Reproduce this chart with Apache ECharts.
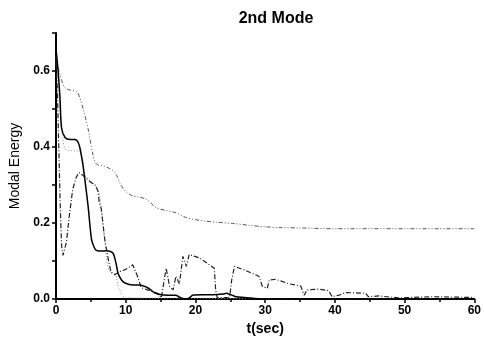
<!DOCTYPE html>
<html>
<head>
<meta charset="utf-8">
<script src="https://cdn.jsdelivr.net/npm/echarts@6/dist/echarts.min.js"></script>
<style>html,body{margin:0;padding:0;background:#fff}#c{width:484px;height:348px}</style>
</head>
<body>
<div id="c"></div>
<script>
// Solid line
var tSolid = [0, 0.3, 0.57, 0.8, 1.3, 2, 2.7, 3.1, 3.4, 3.8, 4.1, 4.6, 5.1, 5.5, 5.8, 6.5, 7.2, 7.8, 8.2, 8.6, 8.9, 9.4, 9.9, 11, 12, 13, 13.6, 14.1, 14.9, 16, 17.2, 17.6, 18, 18.7, 19.2, 19.6, 21, 22.5, 24, 24.4, 25, 25.8, 27, 28.2, 30, 40, 50, 60];
var vSolid = [0.66, 0.6, 0.53, 0.45, 0.425, 0.42, 0.42, 0.415, 0.40, 0.36, 0.32, 0.245, 0.156, 0.135, 0.128, 0.126, 0.127, 0.125, 0.12, 0.095, 0.068, 0.05, 0.042, 0.037, 0.037, 0.031, 0.024, 0.017, 0.012, 0.01, 0.01, 0.006, 0.002, 0, 0.004, 0.01, 0.011, 0.011, 0.013, 0.015, 0.012, 0.006, 0.004, 0.002, 0, 0, 0, 0];
// Dash-dot line
var tDashDot = [0, 0.2, 0.4, 0.6, 0.8, 1.0, 1.2, 1.5, 1.9, 2.4, 2.9, 3.3, 3.9, 4.8, 5.6, 6.0, 6.2, 6.5, 7.0, 7.3, 7.6, 7.9, 8.4, 9.1, 10.0, 11.0, 11.8, 12.2, 13.4, 14.5, 15.1, 15.8, 16.3, 16.8, 17.2, 17.7, 18.2, 18.7, 19.1, 20.6, 22.7, 22.9, 23.1, 24.9, 25.2, 25.6, 27.2, 29.1, 29.6, 30.3, 30.6, 31.5, 33.4, 35.1, 35.6, 36.0, 37.7, 39.1, 39.6, 40.6, 41.5, 44.4, 44.8, 46.3, 49.1, 54, 60];
var vDashDot = [0.62, 0.55, 0.40, 0.25, 0.14, 0.115, 0.11, 0.15, 0.218, 0.289, 0.32, 0.333, 0.325, 0.31, 0.30, 0.285, 0.255, 0.236, 0.156, 0.125, 0.095, 0.07, 0.064, 0.072, 0.078, 0.09, 0.055, 0.03, 0.022, 0.015, 0.003, 0.081, 0.033, 0.024, 0.06, 0.04, 0.112, 0.086, 0.117, 0.108, 0.081, 0.024, 0.004, 0.004, 0.05, 0.086, 0.075, 0.06, 0.033, 0.028, 0.05, 0.052, 0.04, 0.034, 0.01, 0.024, 0.026, 0.022, 0.006, 0.01, 0.017, 0.015, 0.006, 0.008, 0.003, 0.006, 0.004];
// Dash-dot-dot line (upper)
var tDashDotDot = [0, 0.3, 0.57, 1.0, 1.3, 2, 3, 3.4, 3.9, 4.6, 5.3, 5.8, 6.8, 7.5, 8.2, 8.7, 9.3, 9.9, 11, 12, 13, 14.4, 15.8, 17.2, 18.7, 20.6, 23, 25.3, 27.7, 30, 32, 35, 40, 45, 50, 55, 60];
var vDashDotDot = [0.64, 0.61, 0.59, 0.565, 0.555, 0.55, 0.545, 0.53, 0.50, 0.448, 0.38, 0.355, 0.35, 0.345, 0.338, 0.325, 0.30, 0.285, 0.271, 0.268, 0.262, 0.24, 0.233, 0.227, 0.214, 0.207, 0.202, 0.199, 0.194, 0.19, 0.188, 0.187, 0.185, 0.185, 0.185, 0.185, 0.185];
// Dotted line
var tDotted = [0, 0.3, 0.7, 1.0, 1.3, 2, 3, 3.5, 3.9, 4.2, 5, 6, 6.5, 7, 7.6, 8.5, 9, 10, 20, 30, 40, 50, 60];
var vDotted = [0.63, 0.58, 0.47, 0.42, 0.395, 0.39, 0.39, 0.385, 0.36, 0.325, 0.31, 0.29, 0.24, 0.15, 0.075, 0.065, 0.03, 0.003, 0.002, 0.001, 0.001, 0.001, 0];

var titleText = '2nd Mode';
var xName = 't(sec)';
var yName = 'Modal Energy';

function pairs(t, v) { return t.map(function (x, i) { return [x, v[i]]; }); }

var chart = echarts.init(document.getElementById('c'), null, {renderer: 'canvas'});
var lblFont = {fontFamily: 'Liberation Sans, Arial, sans-serif', fontWeight: 'bold', fontSize: 12, color: '#000'};
chart.setOption({
  animation: false,
  backgroundColor: '#fff',
  title: {
    text: titleText, left: 271, top: 6, textAlign: 'center',
    textStyle: {fontFamily: 'Liberation Sans, Arial, sans-serif', fontWeight: 'bold', fontSize: 16, color: '#000'}
  },
  grid: {left: 56, right: 8, top: 33, bottom: 49},
  xAxis: {
    type: 'value', min: 0, max: 60, interval: 10,
    name: xName, nameLocation: 'middle', nameGap: 21,
    nameTextStyle: {fontFamily: 'Liberation Sans, Arial, sans-serif', fontWeight: 'bold', fontSize: 14, color: '#000'},
    axisLine: {show: true, lineStyle: {color: '#000', width: 2}},
    axisTick: {show: true, inside: false, length: 4, lineStyle: {color: '#000', width: 1.5}},
    minorTick: {show: true, splitNumber: 2, length: 3, lineStyle: {color: '#000', width: 1.5}},
    axisLabel: Object.assign({margin: 6}, lblFont),
    splitLine: {show: false}
  },
  yAxis: {
    type: 'value', min: 0, max: 0.7, interval: 0.1,
    name: yName, nameLocation: 'middle', nameGap: 33,
    nameTextStyle: {fontFamily: 'Liberation Sans, Arial, sans-serif', fontSize: 14, color: '#000'},
    axisLine: {show: true, lineStyle: {color: '#000', width: 2}},
    axisTick: {show: true, inside: false, length: 4, lineStyle: {color: '#000', width: 1.5}},
    axisLabel: Object.assign({
      margin: 6,
      formatter: function (v) { return Math.abs(v * 5 - Math.round(v * 5)) < 1e-6 ? v.toFixed(1) : ''; }
    }, lblFont),
    splitLine: {show: false}
  },
  series: [
    {type: 'line', data: pairs(tDotted, vDotted), showSymbol: false, smooth: 0.3,
     lineStyle: {color: '#888', width: 1, type: [1, 2]}},
    {type: 'line', data: pairs(tDashDotDot, vDashDotDot), showSymbol: false, smooth: 0.3,
     lineStyle: {color: '#555', width: 1, type: [4, 2, 1, 2, 1, 2]}},
    {type: 'line', data: pairs(tDashDot, vDashDot), showSymbol: false,
     lineStyle: {color: '#222', width: 1.2, type: [5, 2, 1, 2]}},
    {type: 'line', data: pairs(tSolid, vSolid), showSymbol: false, smooth: 0.3,
     lineStyle: {color: '#000', width: 1.5, type: 'solid'}}
  ]
});
</script>
</body>
</html>
